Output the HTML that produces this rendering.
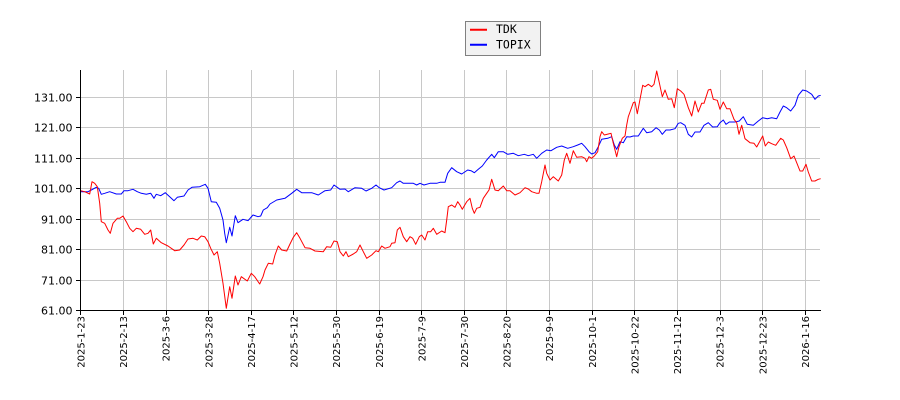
<!DOCTYPE html>
<html>
<head>
<meta charset="utf-8">
<style>
html,body{margin:0;padding:0;background:#fff;}
svg{display:block;}
</style>
</head>
<body>
<svg width="900" height="400" viewBox="0 0 900 400" xmlns="http://www.w3.org/2000/svg">
<rect width="900" height="400" fill="#ffffff"/>
<g stroke="#c8c8c8" stroke-width="1" shape-rendering="crispEdges">
<line x1="81" y1="97.5" x2="820" y2="97.5"/>
<line x1="81" y1="127.5" x2="820" y2="127.5"/>
<line x1="81" y1="158.5" x2="820" y2="158.5"/>
<line x1="81" y1="188.5" x2="820" y2="188.5"/>
<line x1="81" y1="219.5" x2="820" y2="219.5"/>
<line x1="81" y1="249.5" x2="820" y2="249.5"/>
<line x1="81" y1="280.5" x2="820" y2="280.5"/>
<line x1="123.5" y1="70" x2="123.5" y2="310"/>
<line x1="166.5" y1="70" x2="166.5" y2="310"/>
<line x1="208.5" y1="70" x2="208.5" y2="310"/>
<line x1="251.5" y1="70" x2="251.5" y2="310"/>
<line x1="293.5" y1="70" x2="293.5" y2="310"/>
<line x1="336.5" y1="70" x2="336.5" y2="310"/>
<line x1="379.5" y1="70" x2="379.5" y2="310"/>
<line x1="421.5" y1="70" x2="421.5" y2="310"/>
<line x1="464.5" y1="70" x2="464.5" y2="310"/>
<line x1="506.5" y1="70" x2="506.5" y2="310"/>
<line x1="549.5" y1="70" x2="549.5" y2="310"/>
<line x1="592.5" y1="70" x2="592.5" y2="310"/>
<line x1="634.5" y1="70" x2="634.5" y2="310"/>
<line x1="677.5" y1="70" x2="677.5" y2="310"/>
<line x1="720.5" y1="70" x2="720.5" y2="310"/>
<line x1="762.5" y1="70" x2="762.5" y2="310"/>
<line x1="805.5" y1="70" x2="805.5" y2="310"/>
</g>
<polyline fill="none" stroke="#0000ff" stroke-width="1" stroke-linejoin="round" points="80.7,191.7 88,191.7 91.3,190 96.3,187.3 98.7,188.3 101.3,194.3 104.7,193.3 109.7,191.7 116.3,194 121.3,194 124,190.7 128,190.7 133,189.3 137.3,191.7 141.3,193.3 146.3,194.3 150.7,193.3 154,198.3 156.3,194.3 160.7,195.7 165.3,192.7 169.7,196.7 174,200.7 177.3,197.3 184,196 188,190 192,187.3 199.7,186.7 205.3,184.3 208,188.3 211.3,201.7 216.3,202.3 219.7,208.3 223,220 224.7,233.3 226.3,242.7 229.7,227.3 232,236 235.3,215.7 238,222.7 243,219.3 248,220.7 253,215 258,216.7 260.7,216 263.3,210 267.3,207.7 270,204 276.7,200 285,198.3 291.7,193.3 296.7,189.3 301.7,192.7 311.7,192.7 318.3,195 325,190.7 330.7,190 334,185 340,189.3 345,189 348.3,191.7 355,187.7 361.7,188.3 366,191 371.7,188.3 376,185 379.3,187.7 384,190 391.7,187.7 396.7,182.7 400,181 403.3,183.3 413.3,183.3 416.7,185 420,183.3 424,185 430,183.3 436.7,183.3 440,182.3 445,182.3 447.7,173.3 451.7,167.7 456.7,171.7 461.7,174 467.7,170 471,170.7 474.3,172.7 478.3,169.3 482.3,166 486.7,160 491.7,154.3 494.3,157.7 498.3,151.7 503.3,151.7 507.7,154.3 513.3,153.3 518.3,155.7 524.3,154.3 528.3,155.7 533.3,154.3 536.7,158.3 541.7,153.3 546.7,150 551,150.7 556.7,147.3 561.7,146 567.7,148.3 573.3,146.7 577.7,145 581.7,143.3 585,146.7 589,151.7 591.7,154 595,152.7 598.3,146.7 601.7,139.3 607.7,138.3 611.7,136.7 614.3,145 616.7,149.3 620,141.7 623.3,142.7 626.7,136.7 630,137 633.3,136 638.3,136 643.3,128.3 646.7,132.7 651.7,131.7 656,127.7 659.3,130 662.3,134.3 666,130 670,130 675,128.7 678.3,123.3 680.7,122.7 685,125.3 688.3,134.3 691.7,137 695,132 700,132 704,125.3 708.3,122.7 712.7,127 717.3,126.7 720,122.7 723.3,120 726,124.3 729.3,122 735,122 739.3,121 743.3,116.7 747.3,124.3 753.3,125.3 758.3,121 762.7,117.7 767.3,118.7 771.7,117.7 776.7,118.7 780,112 783.3,106 786.7,107.7 790.7,111 795,105.3 798.3,95.3 802.7,90 806.7,91 811.7,94.3 815,99.3 818.3,96 820.7,95.3"/>
<polyline fill="none" stroke="#ff0000" stroke-width="1" stroke-linejoin="round" points="80.7,190.7 84.7,191.7 89.7,194 92,181.7 94.7,183.3 97.3,186.7 99.7,203.3 101.3,221.7 104.7,223.3 108,230 110.3,233.3 113,223.3 117.3,218.3 119.7,218.3 123,216 126.3,221.7 129.7,228.3 133,231.7 136.3,228.3 140.7,229.3 144.7,234.3 148,233.3 150.7,230 153.3,244 156.3,238.3 161.3,242.7 168,246 174.7,250.7 179.7,250 184,245 188,239 193,238.3 197.3,240 201.3,236 204.7,236.7 208,241.7 210.7,248.3 214,255 217.3,251.7 219.7,263.3 223,283.3 226.3,308.3 229.7,286.7 232,298.3 235.3,276 238,285 241.3,276.7 247.3,281 251.3,273.3 254.7,276.7 259.7,284 263,276.7 265,270 268.3,263.3 272.7,264 275,255 278.3,246 281.7,250 286.7,251 290,244 293.3,237.3 296.7,232.7 300,238.3 305,247.7 310,248.3 315,251 323.3,251.7 326.7,246.7 330.7,247.3 334,241 337.3,241.7 340,251.7 343.3,256 346,251.7 348.3,256.7 353.3,254 356.7,251.7 360,245 363.3,251.7 366.7,258.3 371.7,255 376,250.7 378.3,251.7 381.7,246 385,248.3 390,246.7 391.7,243.3 395,242.7 397.3,230 400,227.3 403.3,236.7 406.7,241.7 410,236.7 412.7,238.3 415.7,244.3 419.3,236.7 421.7,235 425,240 427.7,231.7 430.7,231.7 433.3,228.3 436.7,234.3 441.7,231 445,232.7 446.7,220 448.3,206.7 451.7,205 455,207.3 457.7,201.7 460,205 462.3,209.3 466.7,201.7 470,198.3 472.3,208.3 474.3,213.3 476.7,208.3 480,207.3 483.3,198.3 486.7,193.3 489,190 491.7,179.3 495,190 498.3,190.7 503.3,186 506.7,190.7 510,190.7 515,195 520,192.7 525,187.7 528.3,189 531.7,191.7 536.7,193.3 539,193.3 541.7,181.7 545,165 546.7,173.3 550,180 553.3,176.7 558.3,181 561.7,175 564.3,160 566.7,153.3 570,163.3 573.3,150.7 576.7,157.3 581.7,156.7 585,158.3 586.7,161.7 589,156.7 591.7,158.3 594.3,156 597.7,151.7 600,136.7 601.7,131.7 604.3,135 608.3,134 611,133.3 613.3,143.3 616.7,156.7 619,146.7 622.3,138.3 625,136 626.7,125 628.3,116.7 630,112 633.3,102.7 635,102 637.3,113.7 640,99.3 642.7,85.3 645,86.7 648.3,84.3 651.7,86.7 654,84.3 656.7,71 659.3,82.7 662.3,96.7 665,90 668.3,99.3 671.7,98.7 674.3,107.7 677.3,88.7 680.7,91 684,94.3 688.3,107.7 691.7,116 695,101 698.3,112 701.7,103.3 704,103.3 708.3,90 710.7,89.3 713.3,99.3 717.3,100.3 720,109.3 723.3,102 726.7,108.7 730,108.7 734,119.3 736.7,122.7 739,134.3 741.7,125.3 745,138.7 750,142.7 754,143.3 756.7,147 762.7,136 765.3,146 768.3,142 771.7,143.7 775.7,145.3 780.7,138.3 783.3,140 786.7,147.7 790.7,158.7 794,156 796.7,162.7 800,171 802.7,171 806,164.3 808.3,172 811.7,181 815,181 818.3,179.3 820.7,178.7"/>
<g stroke="#000" stroke-width="1" shape-rendering="crispEdges">
<line x1="80.5" y1="70" x2="80.5" y2="311"/>
<line x1="80" y1="310.5" x2="821" y2="310.5"/>
<line x1="76" y1="97.5" x2="80" y2="97.5"/>
<line x1="76" y1="127.5" x2="80" y2="127.5"/>
<line x1="76" y1="158.5" x2="80" y2="158.5"/>
<line x1="76" y1="188.5" x2="80" y2="188.5"/>
<line x1="76" y1="219.5" x2="80" y2="219.5"/>
<line x1="76" y1="249.5" x2="80" y2="249.5"/>
<line x1="76" y1="280.5" x2="80" y2="280.5"/>
<line x1="76" y1="310.5" x2="80" y2="310.5"/>
<line x1="80.5" y1="311" x2="80.5" y2="315"/>
<line x1="123.5" y1="311" x2="123.5" y2="315"/>
<line x1="166.5" y1="311" x2="166.5" y2="315"/>
<line x1="208.5" y1="311" x2="208.5" y2="315"/>
<line x1="251.5" y1="311" x2="251.5" y2="315"/>
<line x1="293.5" y1="311" x2="293.5" y2="315"/>
<line x1="336.5" y1="311" x2="336.5" y2="315"/>
<line x1="379.5" y1="311" x2="379.5" y2="315"/>
<line x1="421.5" y1="311" x2="421.5" y2="315"/>
<line x1="464.5" y1="311" x2="464.5" y2="315"/>
<line x1="506.5" y1="311" x2="506.5" y2="315"/>
<line x1="549.5" y1="311" x2="549.5" y2="315"/>
<line x1="592.5" y1="311" x2="592.5" y2="315"/>
<line x1="634.5" y1="311" x2="634.5" y2="315"/>
<line x1="677.5" y1="311" x2="677.5" y2="315"/>
<line x1="720.5" y1="311" x2="720.5" y2="315"/>
<line x1="762.5" y1="311" x2="762.5" y2="315"/>
<line x1="805.5" y1="311" x2="805.5" y2="315"/>
</g>
<g font-family="'DejaVu Sans', 'Liberation Sans', sans-serif" font-size="11" fill="#000" text-anchor="end">
<text x="72.5" y="101.5">131.00</text>
<text x="72.5" y="131.5">121.00</text>
<text x="72.5" y="162.5">111.00</text>
<text x="72.5" y="192.5">101.00</text>
<text x="72.5" y="223.5">91.00</text>
<text x="72.5" y="253.5">81.00</text>
<text x="72.5" y="284.5">71.00</text>
<text x="72.5" y="314.5">61.00</text>
</g>
<g font-family="'DejaVu Sans', 'Liberation Sans', sans-serif" font-size="10" fill="#000" text-anchor="end">
<text transform="translate(84.4,316) rotate(-90)">2025-1-23</text>
<text transform="translate(127.1,316) rotate(-90)">2025-2-13</text>
<text transform="translate(169.7,316) rotate(-90)">2025-3-6</text>
<text transform="translate(212.3,316) rotate(-90)">2025-3-28</text>
<text transform="translate(254.9,316) rotate(-90)">2025-4-17</text>
<text transform="translate(297.5,316) rotate(-90)">2025-5-12</text>
<text transform="translate(340.1,316) rotate(-90)">2025-5-30</text>
<text transform="translate(382.8,316) rotate(-90)">2025-6-19</text>
<text transform="translate(425.4,316) rotate(-90)">2025-7-9</text>
<text transform="translate(468,316) rotate(-90)">2025-7-30</text>
<text transform="translate(510.6,316) rotate(-90)">2025-8-20</text>
<text transform="translate(553.2,316) rotate(-90)">2025-9-9</text>
<text transform="translate(595.9,316) rotate(-90)">2025-10-1</text>
<text transform="translate(638.5,316) rotate(-90)">2025-10-22</text>
<text transform="translate(681.1,316) rotate(-90)">2025-11-12</text>
<text transform="translate(723.7,316) rotate(-90)">2025-12-3</text>
<text transform="translate(766.3,316) rotate(-90)">2025-12-23</text>
<text transform="translate(808.9,316) rotate(-90)">2026-1-16</text>
</g>
<rect x="465.5" y="21.5" width="75" height="34" fill="#f2f2f2" stroke="#808080" stroke-width="1" shape-rendering="crispEdges"/>
<line x1="470" y1="29.7" x2="487" y2="29.7" stroke="#ff0000" stroke-width="2"/>
<line x1="470" y1="44.7" x2="487" y2="44.7" stroke="#0000ff" stroke-width="2"/>
<g font-family="'DejaVu Sans Mono', 'Liberation Mono', monospace" font-size="11.5" fill="#000">
<text x="496" y="33">TDK</text>
<text x="496" y="48.5">TOPIX</text>
</g>
</svg>
</body>
</html>
